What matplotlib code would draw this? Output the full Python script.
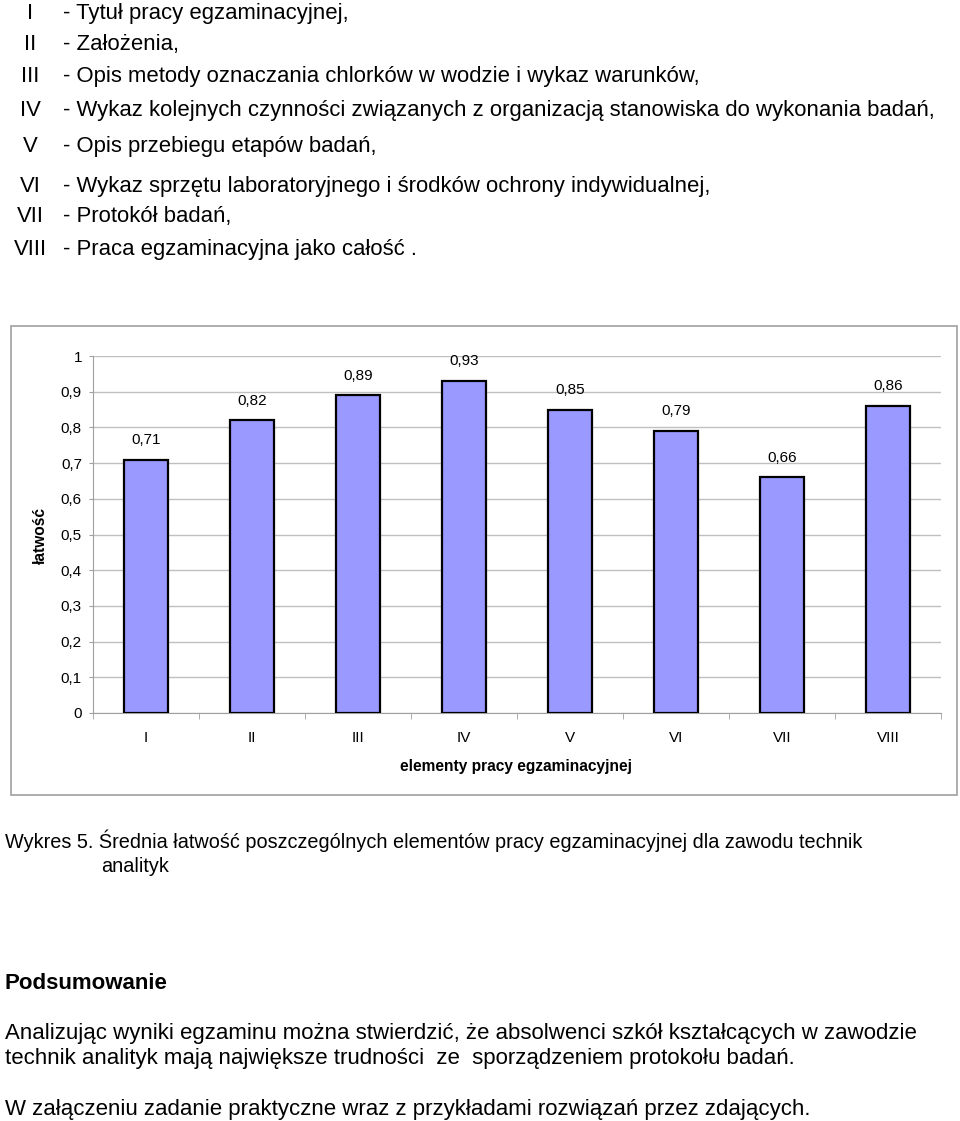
import numpy as np
import matplotlib.pyplot as plt
from matplotlib.patches import Rectangle

plt.rcParams['font.family'] = ['Liberation Sans', 'DejaVu Sans']

# data
categories = ['I', 'II', 'III', 'IV', 'V', 'VI', 'VII', 'VIII']
values = [0.71, 0.82, 0.89, 0.93, 0.85, 0.79, 0.66, 0.86]
descriptions = [
    '- Tytuł pracy egzaminacyjnej,',
    '- Założenia,',
    '- Opis metody oznaczania chlorków w wodzie i wykaz warunków,',
    '- Wykaz kolejnych czynności związanych z organizacją stanowiska do wykonania badań,',
    '- Opis przebiegu etapów badań,',
    '- Wykaz sprzętu laboratoryjnego i środków ochrony indywidualnej,',
    '- Protokół badań,',
    '- Praca egzaminacyjna jako całość .',
]
yticks = np.arange(0, 1.01, 0.1)

W, H = 960, 1121
fig = plt.figure(figsize=(W / 100, H / 100), dpi=100)


def ptext(x, y, s, **kw):
    # pixel coords from top-left, y is the text baseline
    fig.text(x / W, 1 - y / H, s, va='baseline', **kw)


# list of elements above the chart
baselines = [19, 50, 82, 116, 152, 192, 222, 255]
for cat, desc, y in zip(categories, descriptions, baselines):
    ptext(30, y, cat, ha='center', fontsize=15.9)
    ptext(63, y, desc, ha='left', fontsize=15.9)

# chart frame
fig.patches.append(Rectangle((11 / W, 1 - 795 / H), 946 / W, 469 / H,
                             transform=fig.transFigure, fill=False,
                             edgecolor='#a0a0a0', linewidth=1.2))

ax = fig.add_axes([93 / W, 1 - 713 / H, 848 / W, 357 / H])
x = np.arange(len(categories))
ax.bar(x, values, width=0.41, color='#9999ff', edgecolor='black',
       linewidth=1.6, zorder=3)
for xi, v in zip(x, values):
    ax.text(xi, v + 0.035, f'{v:.2f}'.replace('.', ','), ha='center',
            va='bottom', fontsize=11)

ax.set_xlim(-0.5, len(categories) - 0.5)
ax.set_ylim(0, 1)
ax.set_yticks(yticks)
ax.set_yticklabels(['0' if t == 0 else '1' if t == 1 else f'{t:.1f}'.replace('.', ',')
                    for t in yticks])
ax.set_xticks(x)
ax.set_xticklabels(categories)
ax.set_xticks(np.arange(-0.5, len(categories)), minor=True)
ax.tick_params(axis='x', which='major', length=0, pad=13, labelsize=11)
ax.tick_params(axis='x', which='minor', length=4, color='#a0a0a0', direction='out')
ax.tick_params(axis='y', length=3, color='#a0a0a0', pad=5, labelsize=11)
ax.grid(axis='y', color='#c0c0c0', linewidth=1, zorder=0)
for s in ['top', 'right']:
    ax.spines[s].set_visible(False)
for s in ['left', 'bottom']:
    ax.spines[s].set_color('#a0a0a0')

fig.text(40 / W, 1 - 535 / H, 'łatwość', ha='center', va='center', rotation=90,
         fontsize=11.2, fontweight='bold')
fig.text(516 / W, 1 - 766 / H, 'elementy pracy egzaminacyjnej', ha='center',
         va='center', fontsize=11.2, fontweight='bold')

# caption and summary
ptext(5, 848, 'Wykres 5. Średnia łatwość poszczególnych elementów pracy egzaminacyjnej dla zawodu technik',
      ha='left', fontsize=14.3)
ptext(101, 872, 'analityk', ha='left', fontsize=14.3)
ptext(5, 989, 'Podsumowanie', ha='left', fontsize=16, fontweight='bold')
ptext(5, 1039, 'Analizując wyniki egzaminu można stwierdzić, że absolwenci szkół kształcących w zawodzie',
      ha='left', fontsize=16)
ptext(5, 1064, 'technik analityk mają największe trudności  ze  sporządzeniem protokołu badań.',
      ha='left', fontsize=16)
ptext(5, 1115, 'W załączeniu zadanie praktyczne wraz z przykładami rozwiązań przez zdających.',
      ha='left', fontsize=16)

fig.savefig('out.png', dpi=100)
